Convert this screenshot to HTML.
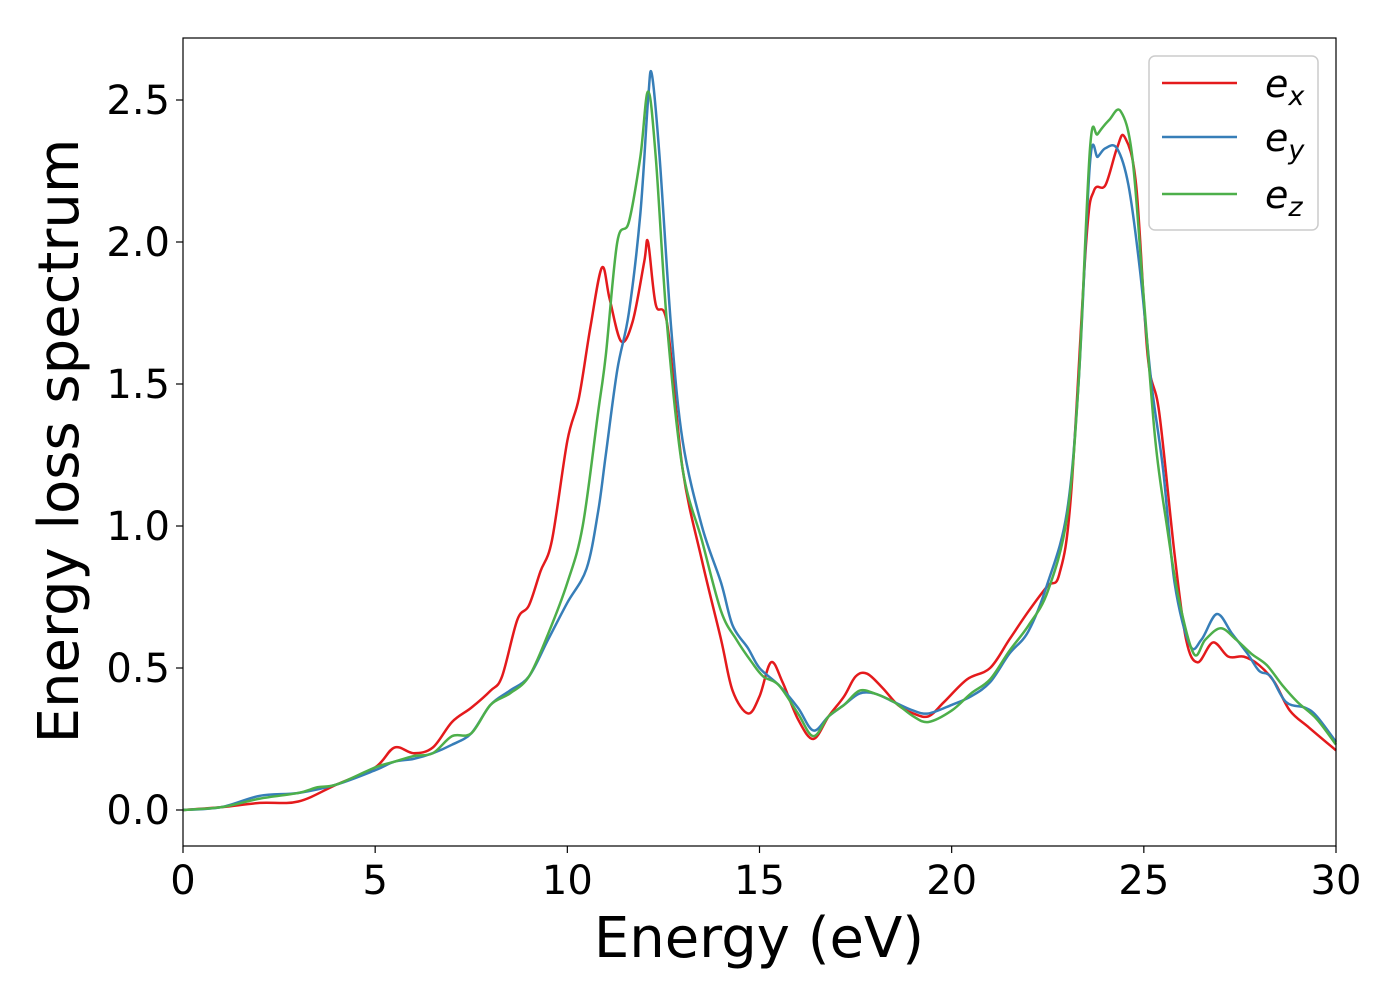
<!DOCTYPE html>
<html><head><meta charset="utf-8"><style>
body{margin:0;background:#fff;}
svg text{font-family:"DejaVu Sans","Liberation Sans",sans-serif;}
</style></head><body>
<svg id="chart" width="1400" height="1000" xmlns="http://www.w3.org/2000/svg">
<rect x="0" y="0" width="1400" height="1000" fill="#fff"/>
<g id="plot"></g>
<rect x="183" y="38" width="1153" height="808" fill="none" stroke="#000" stroke-width="1.2"/>
<g id="xticks"></g>
<g id="yticks"></g>
<text x="759" y="957" font-size="56" text-anchor="middle">Energy (eV)</text>
<text transform="translate(78,441) rotate(-90)" font-size="56" text-anchor="middle">Energy loss spectrum</text>
<g>
<rect x="1149" y="56" width="169" height="174" rx="6" fill="#fff" stroke="#ccc" stroke-width="1.5"/>
<g><line x1="1162" y1="83" x2="1237" y2="83" stroke="#e41a1c" stroke-width="2.5"/><text x="1265" y="97" font-size="38" font-style="italic">e<tspan font-size="27" dy="8">x</tspan></text></g>
<g><line x1="1162" y1="137" x2="1237" y2="137" stroke="#377eb8" stroke-width="2.5"/><text x="1265" y="151" font-size="38" font-style="italic">e<tspan font-size="27" dy="8">y</tspan></text></g>
<g><line x1="1162" y1="194" x2="1237" y2="194" stroke="#4daf4a" stroke-width="2.5"/><text x="1265" y="208" font-size="38" font-style="italic">e<tspan font-size="27" dy="8">z</tspan></text></g>
</g>
</svg>
<script>
const xTicks=[0,5,10,15,20,25,30];
const yTicks=[0.0,0.5,1.0,1.5,2.0,2.5];
const exX=[0,1,2,3,4,5,5.5,6,6.5,7,7.5,8,8.3,8.7,9,9.3,9.6,10,10.3,10.6,10.9,11.1,11.4,11.7,12,12.1,12.3,12.6,13,13.5,14,14.3,14.7,15,15.3,15.6,16,16.4,16.8,17.2,17.5,17.8,18.2,18.6,19,19.4,19.8,20.4,21,21.5,22,22.5,22.8,23.1,23.5,23.7,24,24.3,24.5,24.8,25.1,25.4,25.8,26.1,26.4,26.8,27.2,27.6,28,28.4,28.8,29.3,30];
const exY=[0,0.01,0.025,0.03,0.09,0.15,0.22,0.2,0.22,0.31,0.36,0.42,0.47,0.67,0.72,0.84,0.95,1.3,1.45,1.7,1.91,1.8,1.65,1.72,1.93,2.0,1.78,1.71,1.2,0.88,0.6,0.42,0.34,0.4,0.52,0.45,0.32,0.25,0.33,0.4,0.47,0.48,0.43,0.37,0.34,0.33,0.38,0.46,0.5,0.6,0.7,0.79,0.83,1.1,2.0,2.18,2.2,2.33,2.37,2.2,1.6,1.4,0.9,0.6,0.52,0.59,0.54,0.54,0.51,0.45,0.35,0.29,0.21];
const eyX=[0,1,2,3,4,5,5.5,6,6.5,7,7.5,8,8.5,9,9.5,10,10.5,10.8,11,11.3,11.6,11.9,12.1,12.2,12.4,12.7,13,13.5,14,14.3,14.7,15,15.5,16,16.4,16.8,17.2,17.6,18,18.5,19,19.4,20,20.5,21,21.5,22,22.5,23,23.3,23.6,23.8,24,24.3,24.6,24.9,25.2,25.5,25.8,26.2,26.5,26.9,27.3,27.7,28,28.3,28.7,29.2,29.5,30];
const eyY=[0,0.01,0.05,0.06,0.09,0.14,0.17,0.18,0.2,0.23,0.27,0.37,0.42,0.47,0.6,0.73,0.85,1.05,1.25,1.55,1.75,2.1,2.5,2.59,2.3,1.7,1.3,1.0,0.8,0.65,0.57,0.5,0.44,0.36,0.28,0.33,0.37,0.41,0.41,0.38,0.35,0.34,0.37,0.4,0.45,0.55,0.63,0.8,1.05,1.5,2.28,2.3,2.33,2.33,2.2,1.9,1.5,1.2,0.8,0.58,0.6,0.69,0.62,0.55,0.49,0.47,0.38,0.36,0.33,0.24];
const ezX=[0,1,2,3,3.5,4,5,5.5,6,6.5,7,7.5,8,8.5,9,9.5,10,10.4,10.8,11,11.3,11.6,11.9,12.1,12.3,12.6,13,13.5,14,14.4,14.8,15.1,15.5,16,16.4,16.8,17.2,17.6,18,18.5,19,19.4,20,20.5,21,21.5,22,22.5,23,23.3,23.6,23.8,24.1,24.4,24.7,25,25.3,25.6,25.9,26.3,26.6,27,27.4,27.8,28.2,28.6,29,29.5,30];
const ezY=[0,0.01,0.04,0.06,0.08,0.09,0.15,0.17,0.19,0.2,0.26,0.27,0.37,0.41,0.47,0.62,0.8,1.0,1.4,1.6,2.0,2.07,2.3,2.53,2.3,1.7,1.2,0.95,0.7,0.6,0.52,0.47,0.44,0.34,0.26,0.33,0.37,0.42,0.41,0.38,0.33,0.31,0.35,0.41,0.46,0.56,0.65,0.77,1.03,1.5,2.33,2.38,2.43,2.46,2.3,1.8,1.3,1.0,0.75,0.55,0.6,0.64,0.6,0.55,0.51,0.44,0.38,0.32,0.23];
const NS='http://www.w3.org/2000/svg';
function sx(v){return 183+v*(1153/30);}
function sy(v){return 810-v*284;}
function path(xs,ys){
  const p=xs.map((x,i)=>[sx(x),sy(ys[i])]);
  let d='M'+p[0][0]+','+p[0][1];
  for(let i=0;i<p.length-1;i++){
    const p0=p[Math.max(0,i-1)],p1=p[i],p2=p[i+1],p3=p[Math.min(p.length-1,i+2)];
    const c1=[p1[0]+(p2[0]-p0[0])/6,p1[1]+(p2[1]-p0[1])/6];
    const c2=[p2[0]-(p3[0]-p1[0])/6,p2[1]-(p3[1]-p1[1])/6];
    d+=' C'+c1[0]+','+c1[1]+' '+c2[0]+','+c2[1]+' '+p2[0]+','+p2[1];
  }
  return d;
}
const plot=document.getElementById('plot');
const series=[['ex',exX,exY,'#e41a1c'],['ey',eyX,eyY,'#377eb8'],['ez',ezX,ezY,'#4daf4a']];
series.forEach(s=>{
  const el=document.createElementNS(NS,'path');
  el.setAttribute('d',path(s[1],s[2]));
  el.setAttribute('fill','none');
  el.setAttribute('stroke',s[3]);
  el.setAttribute('stroke-width','2.5');
  
  
  plot.appendChild(el);
});
const xg=document.getElementById('xticks');
xTicks.forEach(t=>{
  const l=document.createElementNS(NS,'line');
  l.setAttribute('x1',sx(t));l.setAttribute('x2',sx(t));
  l.setAttribute('y1',846);l.setAttribute('y2',853);
  l.setAttribute('stroke','#000');l.setAttribute('stroke-width','1.2');
  
  
  xg.appendChild(l);
  const tx=document.createElementNS(NS,'text');
  tx.setAttribute('x',sx(t));tx.setAttribute('y',894);
  tx.setAttribute('font-size','40');tx.setAttribute('text-anchor','middle');
  tx.textContent=String(t);
  
  
  xg.appendChild(tx);
});
const yg=document.getElementById('yticks');
yTicks.forEach(t=>{
  const l=document.createElementNS(NS,'line');
  l.setAttribute('x1',176);l.setAttribute('x2',183);
  l.setAttribute('y1',sy(t));l.setAttribute('y2',sy(t));
  l.setAttribute('stroke','#000');l.setAttribute('stroke-width','1.2');
  
  
  yg.appendChild(l);
  const tx=document.createElementNS(NS,'text');
  tx.setAttribute('x',170);tx.setAttribute('y',sy(t)+14);
  tx.setAttribute('font-size','40');tx.setAttribute('text-anchor','end');
  tx.textContent=t.toFixed(1);
  
  
  yg.appendChild(tx);
});
</script>
</body></html>
